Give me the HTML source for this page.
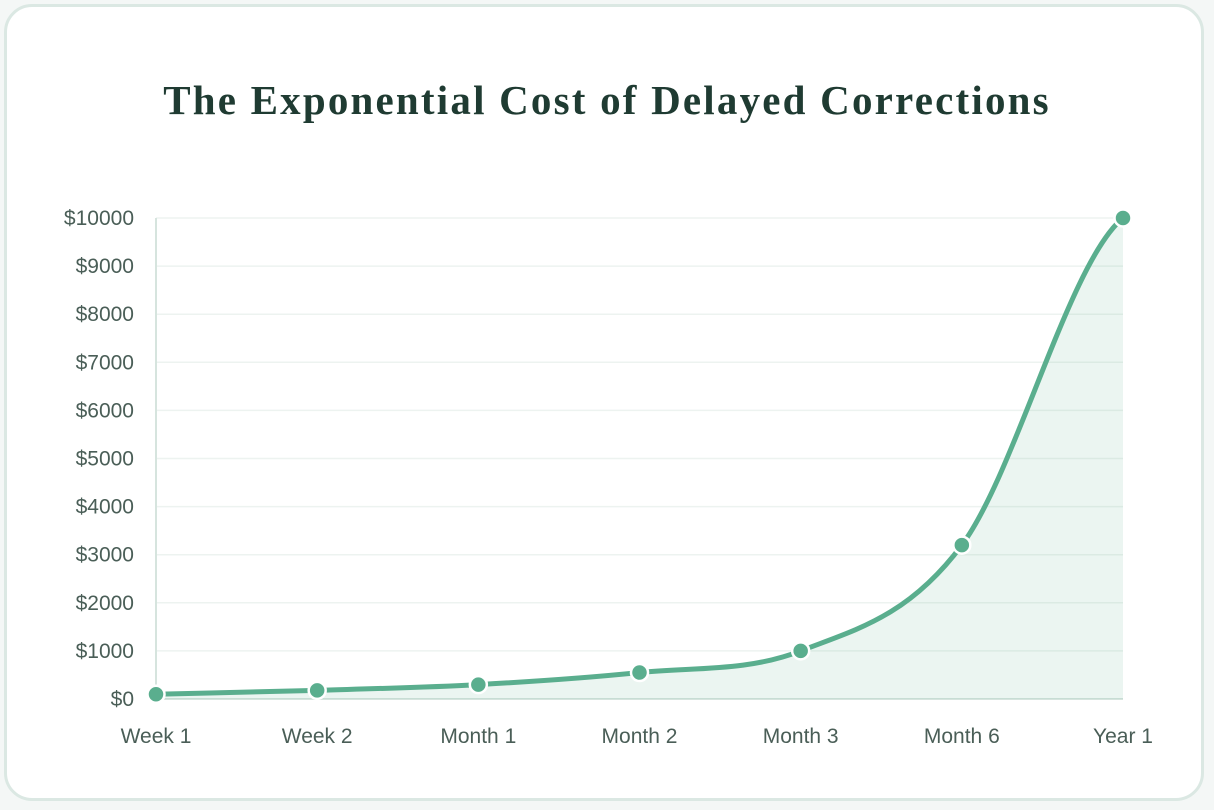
<!DOCTYPE html>
<html><head><meta charset="utf-8"><style>
html,body{margin:0;padding:0;background:#f4f7f6;width:1214px;height:810px;overflow:hidden}
.card{position:absolute;left:4px;top:4px;width:1200px;height:797px;box-sizing:border-box;border:3px solid #dbe8e3;border-radius:28px;background:#fff}
h1{position:absolute;left:0;width:1214px;top:76px;margin:0;text-align:center;font-family:"Liberation Serif",serif;font-weight:bold;font-size:41px;letter-spacing:2.2px;color:#1f3b32}
svg{position:absolute;left:0;top:0}
text{font-family:"Liberation Sans",sans-serif;font-size:21px;fill:#4a5e57}
</style></head><body>
<div class="card"></div>
<h1>The Exponential Cost of Delayed Corrections</h1>
<svg id="chart" width="1214" height="810"></svg>
<script>
const categories=["Week 1","Week 2","Month 1","Month 2","Month 3","Month 6","Year 1"];
const costValues=[100,180,300,550,1000,3200,10000];
const yTicks=[0,1000,2000,3000,4000,5000,6000,7000,8000,9000,10000];
const NS="http://www.w3.org/2000/svg";
const svg=document.getElementById('chart');
const x0=156,x1=1123,y0=699,y1=218,yMax=10000;
const xs=i=>x0+i*(x1-x0)/(categories.length-1);
const ys=v=>y0-v/yMax*(y0-y1);
function mk(t,a,p){const e=document.createElementNS(NS,t);for(const k in a)e.setAttribute(k,a[k]);(p||svg).appendChild(e);return e;}
yTicks.forEach(t=>{
 const g=mk('line',{x1:x0,x2:x1,y1:ys(t),y2:ys(t),stroke:t===0?'#d6e4de':'#edf3f0','stroke-width':t===0?2:1.5});
 
 
 const l=mk('text',{x:134,y:ys(t)+7,'text-anchor':'end'});l.textContent='$'+t;
 
 
});
const ax=mk('line',{x1:x0,x2:x0,y1:y1,y2:y0,stroke:'#d6e4de','stroke-width':2});


categories.forEach((c,i)=>{const l=mk('text',{x:xs(i),y:743,'text-anchor':'middle'});l.textContent=c;
 
 });
// monotone cubic
const P=costValues.map((v,i)=>[xs(i),ys(v)]);const n=P.length;
const d=[],m=[];for(let i=0;i<n-1;i++)d.push((P[i+1][1]-P[i][1])/(P[i+1][0]-P[i][0]));
m[0]=d[0];m[n-1]=d[n-2]*0.4;for(let i=1;i<n-1;i++)m[i]=d[i-1]*d[i]<=0?0:(d[i-1]+d[i])/2;
for(let i=0;i<n-1;i++){if(d[i]===0){m[i]=m[i+1]=0;continue;}const a=m[i]/d[i],b=m[i+1]/d[i],s=a*a+b*b;if(s>9){const t=3/Math.sqrt(s);m[i]=t*a*d[i];m[i+1]=t*b*d[i];}}
let path='M'+P[0][0]+','+P[0][1];
for(let i=0;i<n-1;i++){const h=(P[i+1][0]-P[i][0])/3;path+=` C${P[i][0]+h},${P[i][1]+m[i]*h} ${P[i+1][0]-h},${P[i+1][1]-m[i+1]*h} ${P[i+1][0]},${P[i+1][1]}`;}
const area=mk('path',{d:path+` L${x1},${y0} L${x0},${y0} Z`,fill:'#5aae8e','fill-opacity':0.12});


const line=mk('path',{d:path,fill:'none',stroke:'#5aae8e','stroke-width':5,'stroke-linecap':'round'});


P.forEach(p=>{const c=mk('circle',{cx:p[0],cy:p[1],r:8.5,fill:'#5aae8e',stroke:'#fff','stroke-width':2.5});
 
 });
</script>
</body></html>
